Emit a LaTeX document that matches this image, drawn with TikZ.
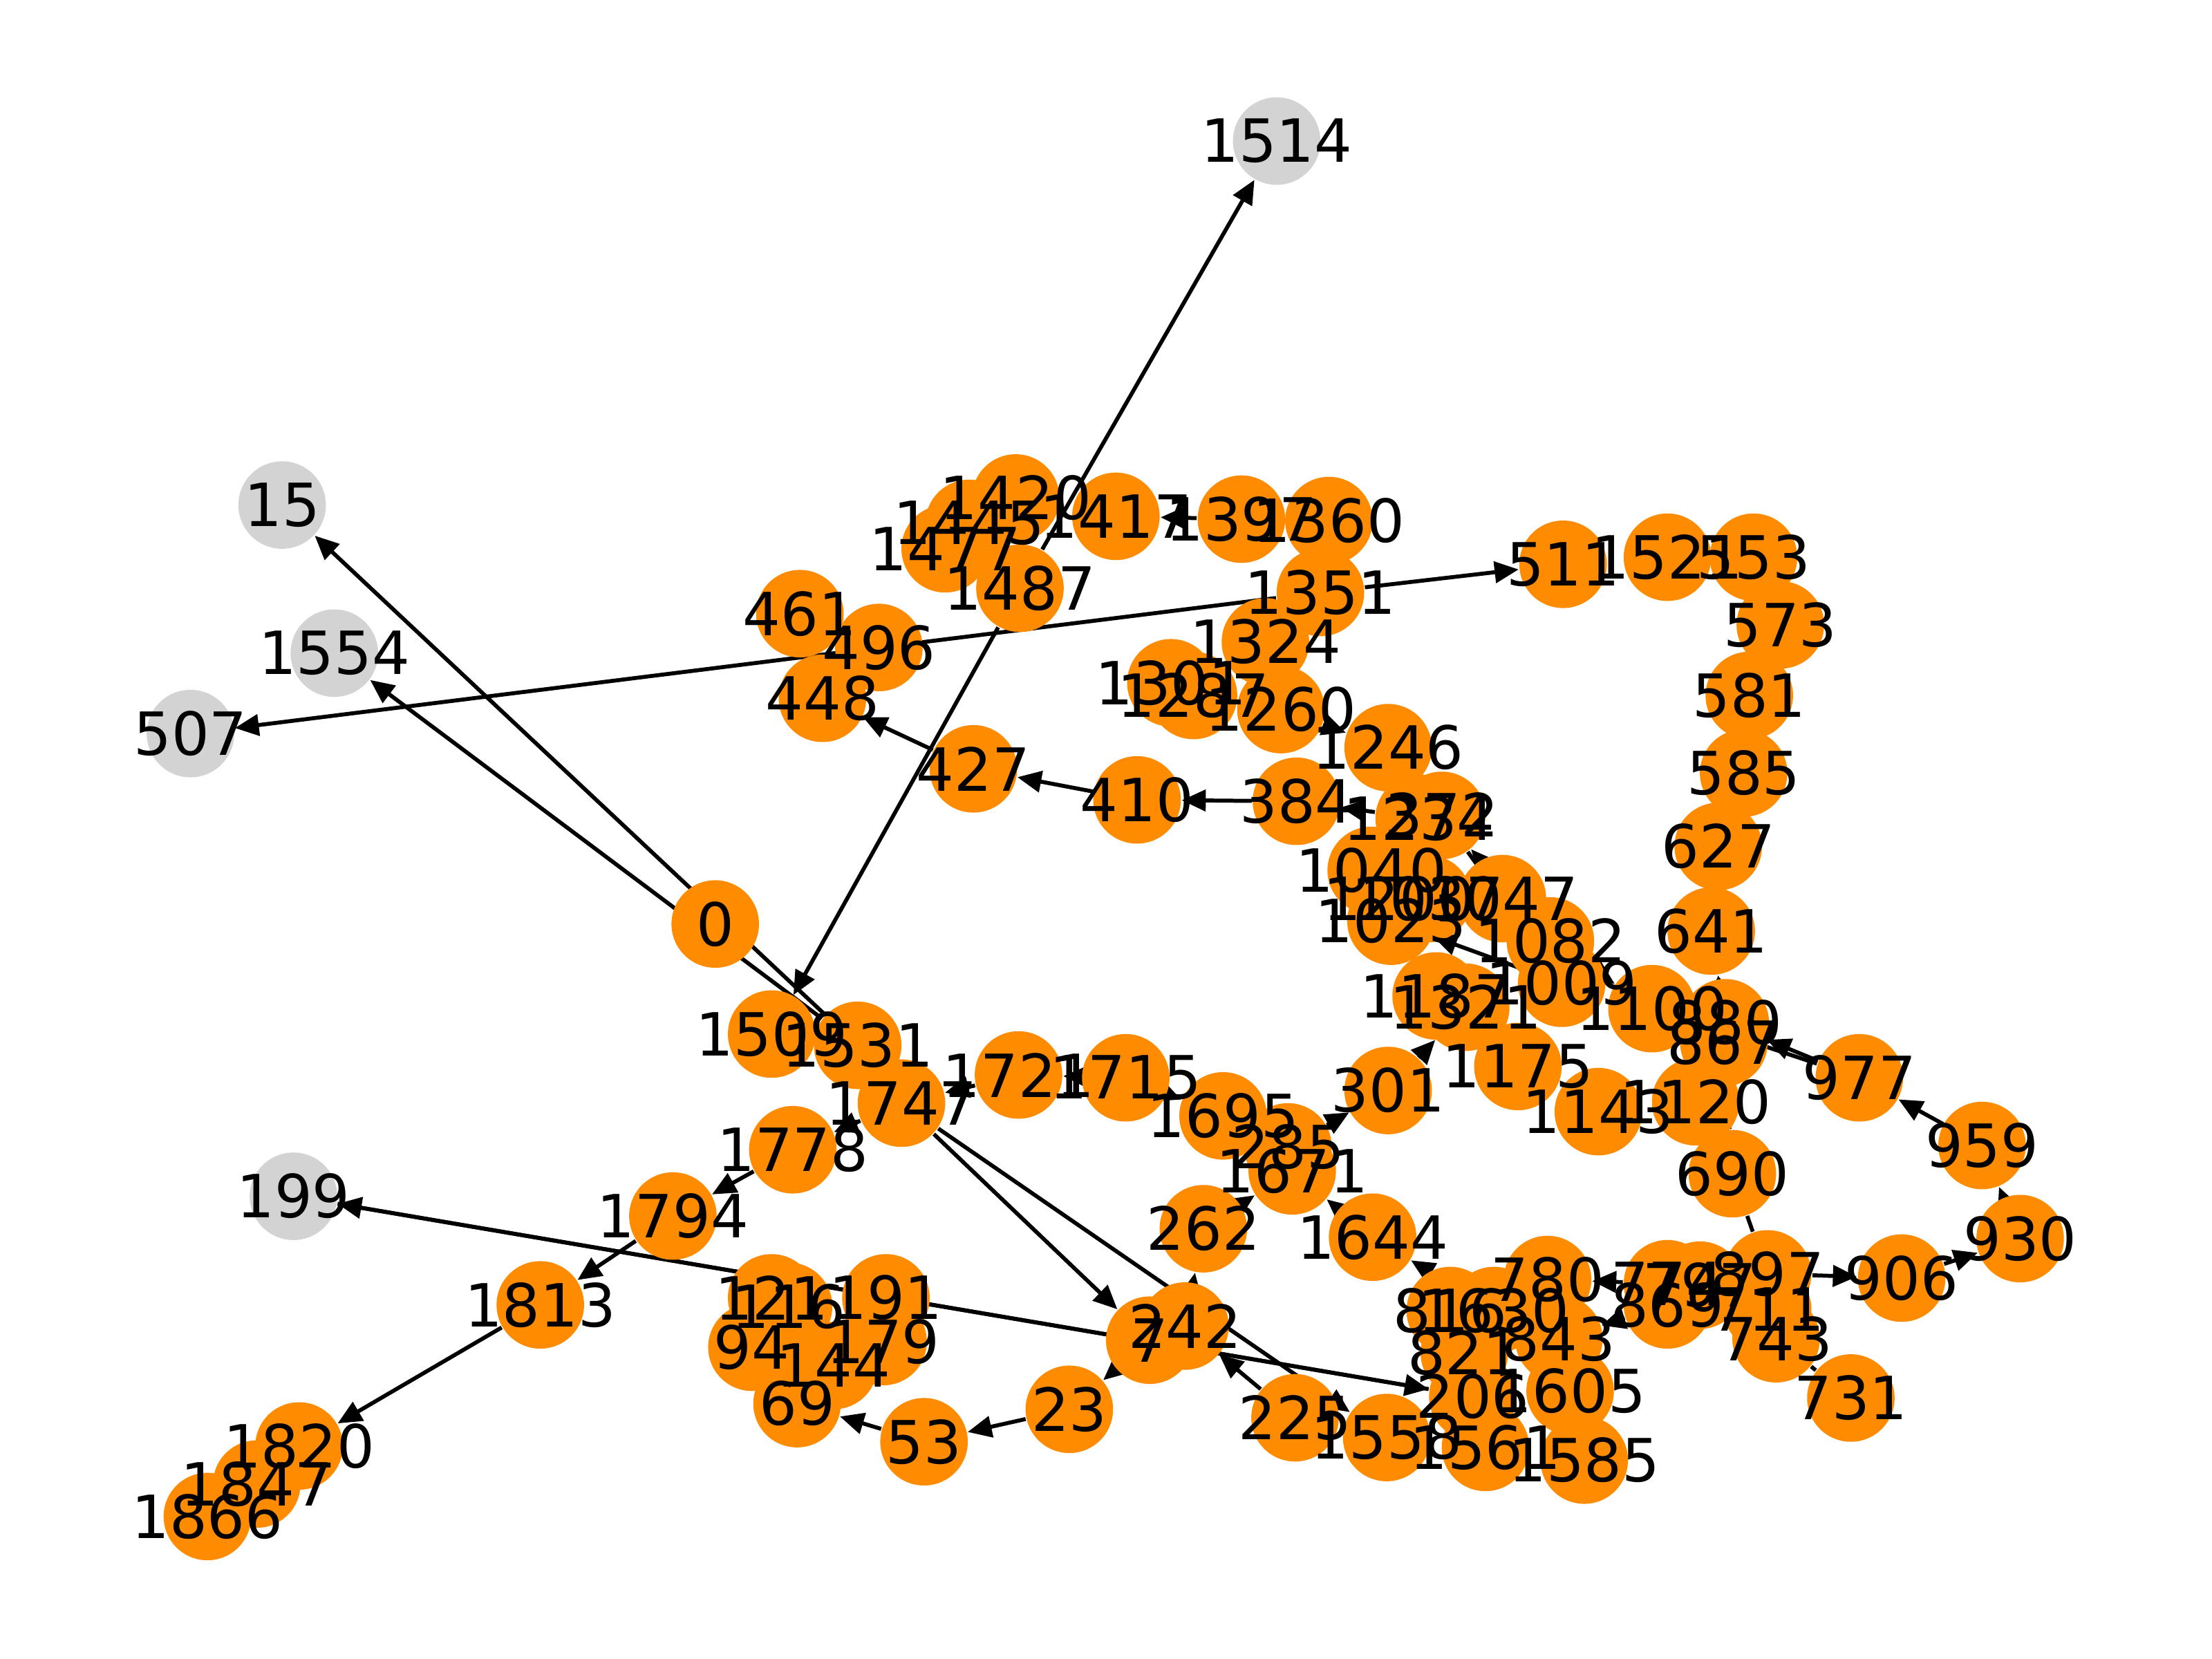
\documentclass[tikz,border=0pt]{standalone}
\usepackage{fontspec}
\setmainfont{DejaVu Sans}
\usetikzlibrary{arrows.meta}
\definecolor{nodeorange}{HTML}{FF8C00}
\definecolor{nodegray}{HTML}{D3D3D3}
\pgfdeclarelayer{edgelayer}
\pgfsetlayers{edgelayer,main}
\begin{document}
\begin{tikzpicture}[x=0.01cm,y=-0.01cm,
  onode/.style={circle,fill=nodeorange,minimum size=0.62cm,inner sep=0pt},
  gnode/.style={circle,fill=nodegray,minimum size=0.62cm,inner sep=0pt},
  lbl/.style={font=\fontsize{12}{14}\selectfont,inner sep=0pt,text=black},
  edge/.style={line width=0.8pt,-{Triangle[length=0.17cm,width=0.15cm]}},
  link/.style={line width=0.8pt}]
\useasboundingbox (0,0) rectangle (1568,1176);
% grey nodes
\foreach \n/\x/\y in {1514/905/100,15/200/358,1554/237/463,507/135/520,199/208/848}
  \node[gnode] (n\n) at (\x,\y) {};
% orange nodes
\foreach \n/\x/\y in {0/507/655,1420/720/353,1445/687/371,1477/670/389,1417/791/366,
  1397/880/368,1360/942/369,1487/723/417,1351/936/420,1324/897/455,1301/830/484,
  1287/846/493,1260/908/503,1246/984/530,461/567/435,496/623/459,448/583/495,
  427/690/545,410/806/567,384/919/568,1234/1006/580,372/1022/578,1040/972/617,
  1200/992/637,1037/1012/637,1047/1065/637,1023/986/653,1082/1099/667,
  1187/1018/706,1321/1039/714,1009/1107/697,1100/1171/715,880/1223/725,
  867/1222/739,1175/1076/756,1143/1133/788,1120/1202/781,690/1228/832,
  977/1318/764,959/1405/812,930/1432/878,906/1348/906,897/1253/903,711/1253/928,
  743/1259/949,731/1312/991,869/1182/925,774/1182/910,797/1205/911,780/1097/907,
  816/1028/929,1630/1059/929,821/1038/959,843/1105/949,206/1044/990,
  1605/1113/986,1558/983/1019,1561/1053/1026,1585/1123/1035,225/918/1005,
  242/840/940,7/815/950,23/758/999,53/655/1022,69/565/995,144/591/968,
  179/626/951,94/533/955,116/559/926,121/547/920,191/628/920,1509/547/733,
  1531/608/741,1747/639/782,1778/562/815,1721/722/762,1715/798/764,
  1695/867/791,285/913/813,1671/916/830,301/984/773,262/853/871,1644/973/877,
  1794/477/862,1813/383/925,1820/212/1025,1847/182/1052,1866/147/1075,
  511/1108/400,1521/1182/395,553/1243/395,573/1262/443,581/1240/493,
  585/1236/548,627/1218/600,641/1213/660}
  \node[onode] (n\n) at (\x,\y) {};
% labels
\foreach \n in {1514,15,1554,507,199,0,1420,1445,1477,1417,1397,1360,1487,1351,1324,
  1301,1287,1260,1246,461,496,448,427,410,384,1234,372,1040,1200,1037,1047,1023,
  1082,1187,1321,1009,1100,880,867,1175,1143,1120,690,977,959,930,906,897,711,
  743,731,869,774,797,780,816,1630,821,843,206,1605,1558,1561,1585,225,242,7,23,
  53,69,144,179,94,116,121,191,1509,1531,1747,1778,1721,1715,1695,285,1671,301,
  262,1644,1794,1813,1820,1847,1866,511,1521,553,573,581,585,627,641}
  \node[lbl] at (n\n) {\n};
% edges
\begin{pgfonlayer}{edgelayer}
\foreach \a/\b in {1487/1514,1487/1509,1531/15,1531/1554,1351/507,1351/511,
  1360/1397,1397/1417,1260/1246,427/448,410/427,384/410,1234/384,1082/372,
  372/1009,880/641,977/880,977/1100,959/977,930/959,906/930,897/906,
  690/867,1082/1100,1009/1023,301/1321,285/301,262/1671,1644/1671,1715/1695,
  1715/1721,1721/1747,1747/1778,1778/1794,1794/1813,1813/1820,1747/7,1747/1558,
  225/242,242/262,7/23,23/53,53/69,206/199,199/206,1630/1644,774/780,869/843,
  797/743}
  \draw[edge] (n\a) -- (n\b);
\draw[link] (n743) -- (n731);
\draw[link] (n690) -- (n897);
\end{pgfonlayer}
\end{tikzpicture}
\end{document}
